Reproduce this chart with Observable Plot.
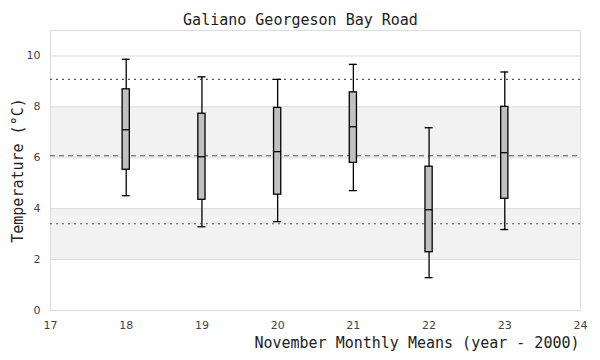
<!DOCTYPE html>
<html>
<head>
<meta charset="utf-8">
<script src="https://cdn.jsdelivr.net/npm/d3@7"></script>
<script src="https://cdn.jsdelivr.net/npm/@observablehq/plot@0.6"></script>
<style>
  body { margin: 0; background: #fff; }
  #chart svg { display: block; }
</style>
</head>
<body>
<div id="chart"></div>
<script>
const years = [18, 19, 20, 21, 22, 23];
const whiskerLow  = [4.51, 3.29, 3.49, 4.71, 1.29, 3.18];
const q1          = [5.53, 4.35, 4.55, 5.80, 2.29, 4.39];
const medians     = [7.10, 6.04, 6.24, 7.22, 3.96, 6.20];
const q3          = [8.69, 7.73, 7.96, 8.57, 5.65, 8.00];
const whiskerHigh = [9.87, 9.18, 9.08, 9.67, 7.18, 9.37];

const bandLow  = [2, 6];
const bandHigh = [4, 8];
const dottedRefs = [9.08, 3.41];
const dashedRefs = [6.08];

const xTicks = [17, 18, 19, 20, 21, 22, 23, 24];
const yTicks = [0, 2, 4, 6, 8, 10];

const titleText = "Galiano Georgeson Bay Road";
const xLabel = "November Monthly Means (year - 2000)";
const yLabel = "Temperature (°C)";

const boxes = years.map((y, i) => ({
  year: y, lo: whiskerLow[i], q1: q1[i], med: medians[i], q3: q3[i], hi: whiskerHigh[i]
}));
const bands = bandLow.map((v, i) => ({y1: v, y2: bandHigh[i]}));

const mono = "'DejaVu Sans Mono', monospace";

const chart = Plot.plot({
  width: 600,
  height: 360,
  marginLeft: 50,
  marginRight: 20,
  marginTop: 30,
  marginBottom: 50,
  style: {fontFamily: "'DejaVu Sans', sans-serif", fontSize: "11px", color: "#555", background: "#fff"},
  x: {domain: [17, 24], ticks: xTicks, label: null},
  y: {domain: [0, 11], ticks: yTicks, label: null},
  marks: [
    Plot.rectY(bands, {y1: "y1", y2: "y2", fill: "#f2f2f2"}),
    Plot.gridY(yTicks, {stroke: "#dcdcdc", strokeOpacity: 1, strokeWidth: 1}),
    Plot.frame({stroke: "#dcdcdc"}),
    Plot.axisX(xTicks, {tickSize: 0, tickPadding: 11, fill: "#444", label: null}),
    Plot.axisY(yTicks, {tickSize: 0, tickPadding: 10, fill: "#444", label: null}),
    Plot.ruleY(dottedRefs, {stroke: "#555", strokeWidth: 1.1, strokeDasharray: "2,4"}),
    Plot.ruleY(dashedRefs, {stroke: "#555", strokeWidth: 1.2, strokeDasharray: "5,4"}),
    Plot.ruleX(boxes, {x: "year", y1: "lo", y2: "hi", stroke: "#000", strokeWidth: 1.3}),
    Plot.ruleY(boxes, {y: "lo", x1: "year", x2: "year", insetLeft: -4, insetRight: -4, stroke: "#000", strokeWidth: 1.3}),
    Plot.ruleY(boxes, {y: "hi", x1: "year", x2: "year", insetLeft: -4, insetRight: -4, stroke: "#000", strokeWidth: 1.3}),
    Plot.rect(boxes, {x1: "year", x2: "year", y1: "q1", y2: "q3", insetLeft: -3.6, insetRight: -3.6, fill: "#c0c0c0", stroke: "#000", strokeWidth: 1.3}),
    Plot.ruleY(boxes, {y: "med", x1: "year", x2: "year", insetLeft: -3.6, insetRight: -3.6, stroke: "#000", strokeWidth: 1.3}),
    Plot.text([titleText], {frameAnchor: "top", textAnchor: "middle", dy: -16, dx: -15, fontFamily: mono, fontSize: 15, fill: "#222"}),
    Plot.text([xLabel], {frameAnchor: "bottom-right", textAnchor: "end", dy: 37, dx: -1, fontFamily: mono, fontSize: 15, fill: "#222"}),
    Plot.text([yLabel], {frameAnchor: "left", textAnchor: "middle", rotate: -90, dx: -32, fontFamily: mono, fontSize: 15, fill: "#222"})
  ]
});
document.getElementById("chart").appendChild(chart);
</script>
</body>
</html>
